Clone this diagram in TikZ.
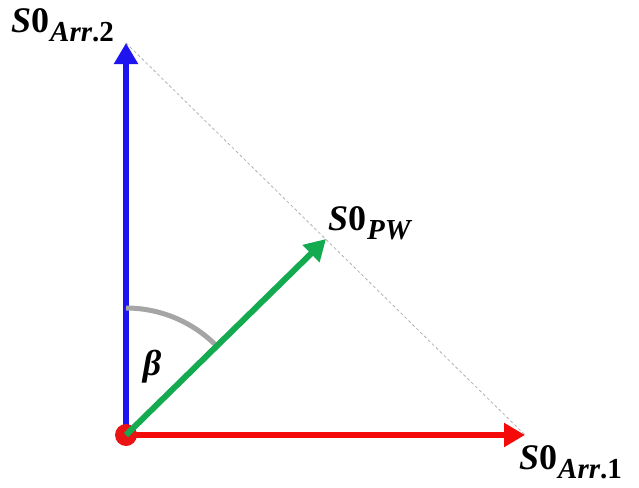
\documentclass[tikz,border=0pt]{standalone}
\usepackage{fontspec}
\setmainfont{Liberation Serif}
\usetikzlibrary{arrows.meta}
\newcommand\mylab[2]{{\bfseries\itshape S}{\bfseries 0}\kern1pt\raisebox{-9pt}{\fontsize{29}{30}\selectfont\bfseries\itshape #1\upshape #2}}
\begin{document}
\begin{tikzpicture}[x=1pt,y=-1pt,
  vec/.style={line width=6pt,-{Triangle[length=21pt,width=23pt]}},
  lbl/.style={inner sep=0pt,anchor=base west,font=\fontsize{36}{38}\selectfont}]
\useasboundingbox (0,0) rectangle (639,487);
\coordinate (O) at (126,435);
\coordinate (B) at (126,43);
\coordinate (R) at (525,435);
\coordinate (G) at (326,239);
\draw[gray!60,line width=0.8pt,dash pattern=on 3pt off 2.5pt] (B) -- (R);
\draw[vec,color={rgb,255:red,30;green,20;blue,240}] (O) -- (B);
\draw[vec,color={rgb,255:red,245;green,10;blue,10}] (O) -- (R);
\fill[color={rgb,255:red,235;green,20;blue,20}] (O) circle (11pt);
\draw[line width=5pt,color={rgb,255:red,165;green,165;blue,165}] (O) ++(0,-127) arc[start angle=-90,end angle=-45,radius=127];
\draw[vec,color={rgb,255:red,20;green,170;blue,80}] (O) -- (G);
\node[lbl] (l2) at (11,33) {\mylab{Arr}{.2}};
\node[lbl] (lpw) at (328,230) {\mylab{PW}{}};
\node[lbl] (l1) at (519,469) {\mylab{Arr}{.1}};
\node[inner sep=0pt,font=\fontsize{36}{38}\selectfont\bfseries\itshape] (beta) at (152,367) {β};
\end{tikzpicture}
\end{document}
